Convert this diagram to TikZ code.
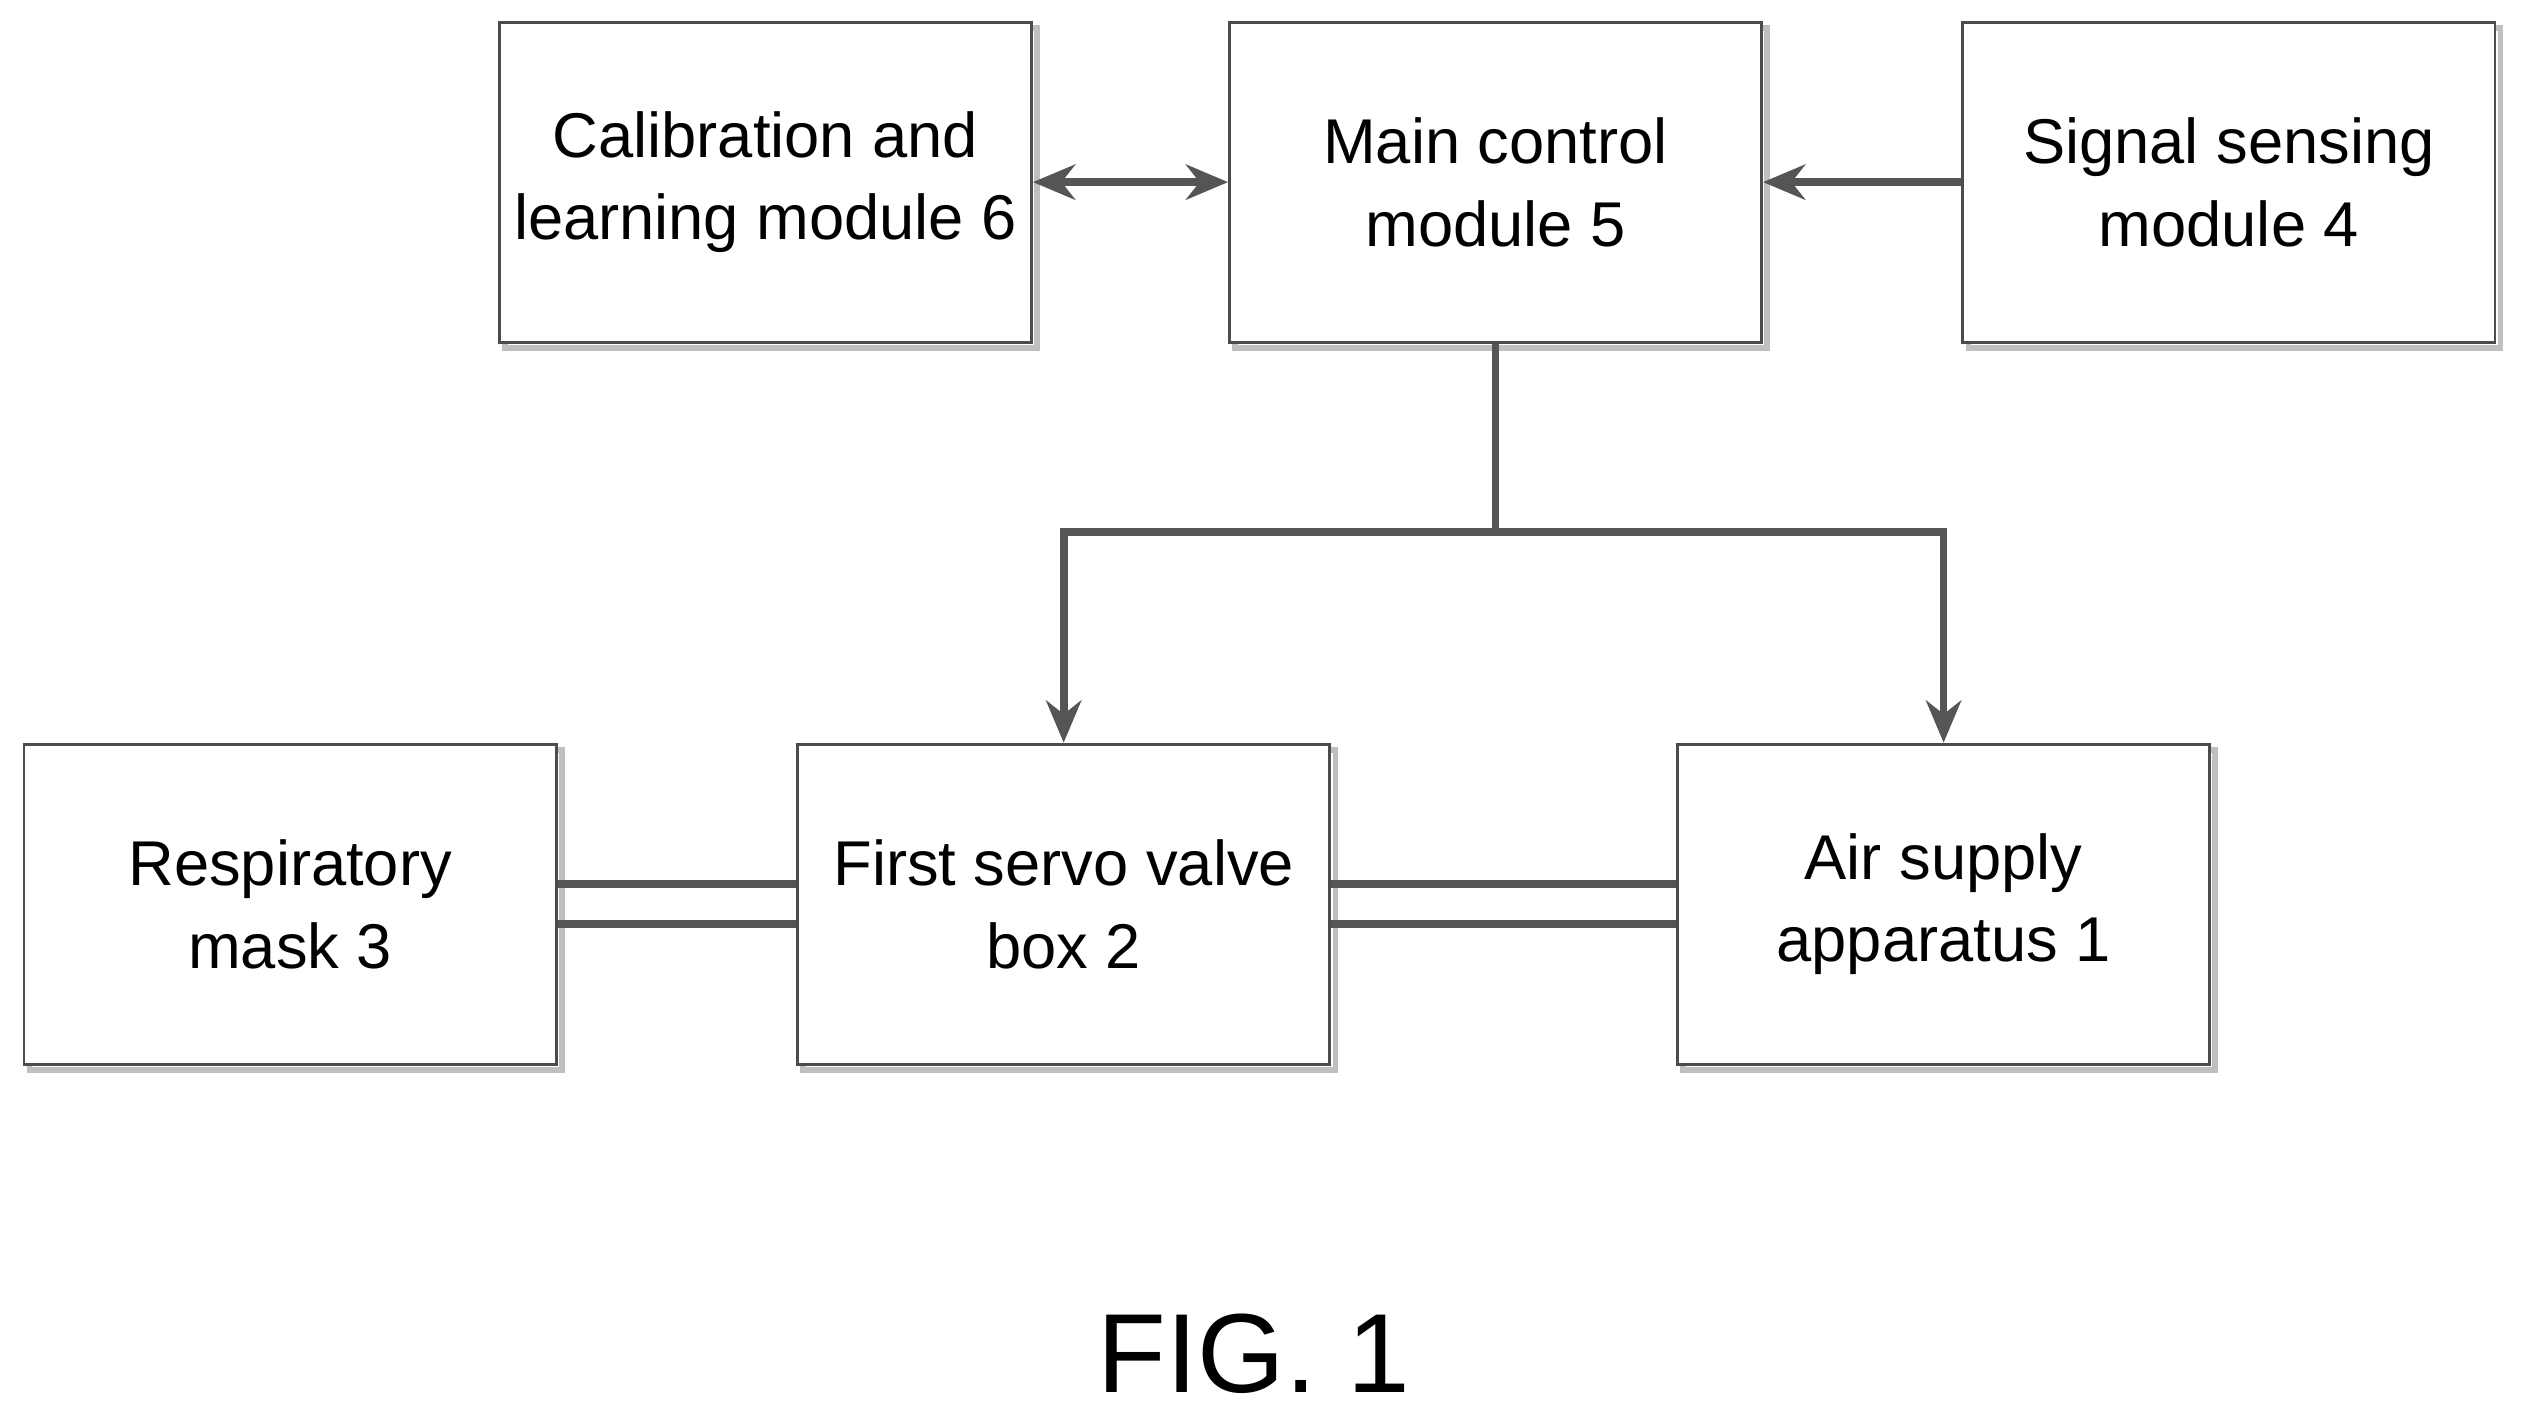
\documentclass[tikz,border=0pt]{standalone}
\usepackage{fontspec}
\setmainfont{Liberation Sans}
\usetikzlibrary{arrows.meta,positioning}
\definecolor{linegray}{RGB}{85,85,85}
\begin{document}
\begin{tikzpicture}[x=0.01612cm, y=-0.01612cm,
    block/.style={draw=black!70, line width=0.8pt, fill=white, minimum width=5.32cm, minimum height=3.2cm, align=center,
        font=\fontsize{18}{23.5}\selectfont, inner sep=2pt,
        preaction={draw=black!25, line width=1.6pt, transform canvas={shift={(1.6pt,-1.6pt)}}}},
    link/.style={line width=2.2pt, linegray},
    tip/.style={-{Stealth[length=12pt,width=10pt]}},
]
\useasboundingbox (0,0) rectangle (1568,876);

% === Top row ===
\node[block] (calib) at (475,113) {Calibration and\\learning module 6};
\node[block] (main) at (928,113) {Main control\\module 5};
\node[block] (sense) at (1383,113) {Signal sensing\\module 4};

% === Bottom row ===
\node[block] (mask) at (180,561) {Respiratory\\mask 3};
\node[block] (valve) at (660,561) {First servo valve\\box 2};
\node[block] (air) at (1206,561) {Air supply\\apparatus 1};

% === Control links ===
\draw[link, {Stealth[length=12pt,width=10pt]}-{Stealth[length=12pt,width=10pt]}] (calib) -- (main);
\draw[link, tip] (sense) -- (main);
\coordinate (split) at (main.south |- 0,330);
\draw[link] (main.south) -- (split);
\draw[link, tip] (split) -| (valve.north);
\draw[link, tip] (split) -| (air.north);

% === Air lines ===
\foreach \dy in {-12.5,12.5}{
    \draw[link] ([yshift=-\dy*0.01612cm]mask.east) -- ([yshift=-\dy*0.01612cm]valve.west);
    \draw[link] ([yshift=-\dy*0.01612cm]valve.east) -- ([yshift=-\dy*0.01612cm]air.west);
}

\node[font=\fontsize{32}{38}\selectfont] (fig) at (778,840) {FIG. 1};
\end{tikzpicture}
\end{document}
